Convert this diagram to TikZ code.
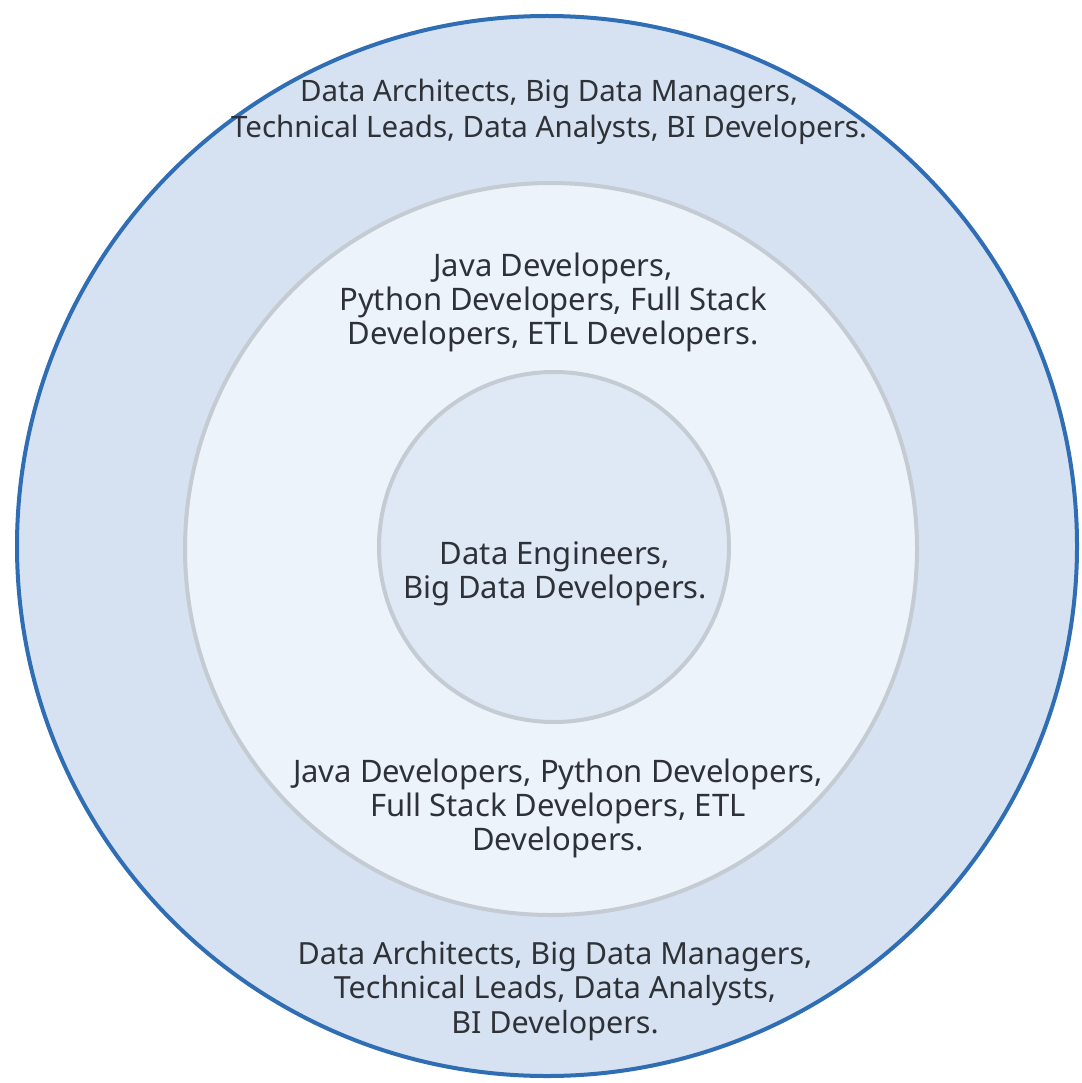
\documentclass[tikz,border=0pt]{standalone}
\usepackage{fontspec}
\setmainfont{Noto Sans}
\definecolor{outerfill}{HTML}{D6E2F1}
\definecolor{outerline}{HTML}{2F6DB5}
\definecolor{midfill}{HTML}{EDF3FA}
\definecolor{ringline}{HTML}{C5CBD3}
\definecolor{innerfill}{HTML}{DFE9F6}
\definecolor{textgray}{HTML}{2E3238}
\begin{document}
\begin{tikzpicture}[x=1pt,y=-1pt,
	ringtext/.style={align=center, text=textgray, font=\fontsize{31}{34}\selectfont, inner sep=0pt}]

	% page
	\fill[white] (0,0) rectangle (1081,1083);
	\useasboundingbox (0,0) rectangle (1081,1083);

	% the three rings
	\filldraw[fill=outerfill, draw=outerline, line width=4pt] (547,546) circle[radius=530pt];
	\filldraw[fill=midfill, draw=ringline, line width=4pt] (551,549) circle[radius=366pt];
	\filldraw[fill=innerfill, draw=ringline, line width=4pt] (554,547) circle[radius=175pt];

	% labels
	\node[ringtext, font=\fontsize{29.5}{35.5}\selectfont] (outertop) at (549,112) {Data Architects, Big Data Managers,\\Technical Leads, Data Analysts, BI Developers.};
	\node[ringtext] (midtop) at (553,302) {Java Developers,\\Python Developers, Full Stack\\Developers, ETL Developers.};
	\node[ringtext] (core) at (555,574) {Data Engineers,\\Big Data Developers.};
	\node[ringtext] (midbottom) at (558,808) {Java Developers, Python Developers,\\Full Stack Developers, ETL\\Developers.};
	\node[ringtext, font=\fontsize{30.5}{34.5}\selectfont] (outerbottom) at (555,991) {Data Architects, Big Data Managers,\\Technical Leads, Data Analysts,\\BI Developers.};

\end{tikzpicture}
\end{document}
